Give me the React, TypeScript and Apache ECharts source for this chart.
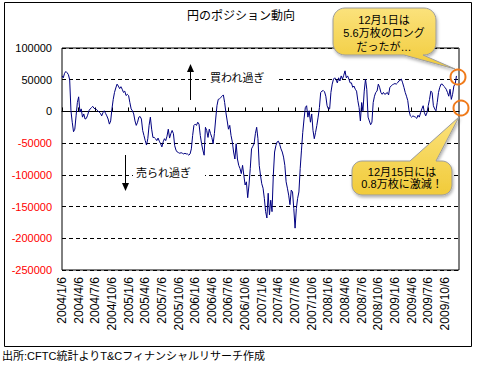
import { useEffect, useRef } from "react";
import * as echarts from "echarts";

// Weekly CFTC net yen position (contracts), 2004/1/6 .. 2009/12/1
const netPositions: number[] = [
  // 2004/1 - 2005/5
  56000, 53000, 60000, 63000, 61000, 58000, 50000, 1000, -17000, -32000, -28000, -7000, 14000, 23000, -1000, 4000,
  -9000, -4000, -12000, -11000, -6000, 1000, 4000, 6000, 8000, 5000, 4000, 3000, 1000, -1000, -3000, -7000,
  -2000, 1000, -3000, -7000, -12000, -20000, -15000, 4000, 19000, 30000, 37000, 43000, 40000, 36000, 39000, 35000,
  30000, 32000, 25000, 27000, 25000, 14000, 4000, 1000, -4000, -15000, -22000, -17000, -9000, -8000, -12000, -30000,
  -38000, -46000, -53000, -43000, -22000, -9000, -28000, -41000,
  // 2005/5 - 2006/11
  -41000, -43000, -46000, -42000, -47000, -51000, -56000, -48000, -43000, -46000, -39000, -28000, -42000, -35000, -30000, -35000,
  -54000, -61000, -64000, -65000, -66000, -65000, -66000, -67000, -66000, -67000, -67000, -69000, -67000, -59000, -38000, -22000,
  -20000, -22000, -17000, -20000, -38000, -51000, -61000, -69000, -25000, -30000, -41000, -28000, -35000, -41000, -51000, -35000,
  -12000, 9000, 19000, 20000, 22000, 24000, 26000, 14000, -2000, -15000, -28000, -22000, -38000, -48000, -64000, -75000,
  -51000, -75000, -85000, -90000, -98000, -85000, -101000, -116000, -111000, -136000, -116000, -90000, -59000, -55000,
  // 2006/11 - 2008/6
  -51000, -35000, -25000, -43000, -85000, -101000, -114000, -121000, -137000, -158000, -168000, -129000, -163000, -140000, -158000, -101000,
  -64000, -54000, -48000, -47000, -52000, -59000, -64000, -72000, -85000, -111000, -121000, -132000, -147000, -124000, -127000, -153000,
  -184000, -153000, -137000, -127000, -90000, -61000, -33000, -12000, 6000, 9000, -9000, 1000, -17000, -4000, -30000, -43000,
  -33000, -22000, -9000, 6000, 30000, 32000, 33000, 31000, 24000, 9000, 4000, 4000, 30000, 43000, 51000, 53000,
  50000, 45000, 53000, 48000, 56000, 51000, 57000, 64000, 53000, 56000, 51000, 45000, 45000, 38000, 40000, 35000,
  32000, 17000, 6000,
  // 2008/6 - 2009/12
  -15000, 14000, 1000, 32000, 51000, 35000, -9000, -15000, -21000, -17000, 14000, 24000, 30000, 32000, 43000, 38000,
  30000, 27000, 30000, 27000, 28000, 30000, 26000, 38000, 40000, 42000, 43000, 44000, 43000, 45000, 48000, 49000,
  51000, 45000, 38000, 30000, 24000, 17000, 1000, -7000, -9000, -7000, -8000, -9000, -11000, -6000, -9000, -2000,
  4000, 9000, -2000, -7000, -2000, 9000, 19000, 32000, 30000, 9000, 4000, 1000, 14000, 30000, 38000, 43000,
  43000, 40000, 38000, 35000, 30000, 24000, 35000, 19000, 27000, 40000, 43000, 56000,
];

const tickLabels: string[] = [
  "2004/1/6", "2004/4/6", "2004/7/6", "2004/10/6",
  "2005/1/6", "2005/4/6", "2005/7/6", "2005/10/6",
  "2006/1/6", "2006/4/6", "2006/7/6", "2006/10/6",
  "2007/1/6", "2007/4/6", "2007/7/6", "2007/10/6",
  "2008/1/6", "2008/4/6", "2008/7/6", "2008/10/6",
  "2009/1/6", "2009/4/6", "2009/7/6", "2009/10/6",
];

const weeksPerTick = 13;
const weekCount = 311; // 2004/1/6 .. 2009/12/15
const categories: string[] = Array.from({ length: weekCount }, (_, i) => {
  const d = new Date(2004, 0, 6 + 7 * i);
  return `${d.getFullYear()}/${d.getMonth() + 1}/${d.getDate()}`;
});

const yTicks = { min: -250000, max: 100000, interval: 50000 };

const titleText = "円のポジション動向";
const sourceText = "出所:CFTC統計よりT&Cフィナンシャルリサーチ作成";
const overboughtText = "買われ過ぎ";
const oversoldText = "売られ過ぎ";
const callout1Text = "12月1日は\n5.6万枚のロング\nだったが…";
const callout2Text = "12月15日には\n0.8万枚に激減！";

const FONT = "'Liberation Sans', 'Noto Sans CJK JP', sans-serif";

function bubblePoints(
  x: number, y: number, w: number, h: number, r: number,
  tail: { edge: "top" | "bottom"; a: number; b: number; tx: number; ty: number }
): number[][] {
  const pts: number[][] = [];
  const arc = (cx: number, cy: number, a0: number, a1: number) => {
    const steps = 8;
    for (let i = 0; i <= steps; i++) {
      const t = ((a0 + ((a1 - a0) * i) / steps) * Math.PI) / 180;
      pts.push([cx + r * Math.cos(t), cy + r * Math.sin(t)]);
    }
  };
  arc(x + r, y + r, 180, 270);
  if (tail.edge === "top") {
    pts.push([tail.a, y], [tail.tx, tail.ty], [tail.b, y]);
  }
  arc(x + w - r, y + r, 270, 360);
  arc(x + w - r, y + h - r, 0, 90);
  if (tail.edge === "bottom") {
    pts.push([tail.b, y + h], [tail.tx, tail.ty], [tail.a, y + h]);
  }
  arc(x + r, y + h - r, 90, 180);
  return pts;
}

const bubbleStyle = {
  fill: {
    type: "linear", x: 0, y: 0, x2: 0, y2: 1,
    colorStops: [
      { offset: 0, color: "#FBE27C" },
      { offset: 1, color: "#F1CB3A" },
    ],
  },
  stroke: "#9C9C9C",
  lineWidth: 1,
  shadowBlur: 3,
  shadowOffsetX: 1,
  shadowOffsetY: 2,
  shadowColor: "rgba(0,0,0,0.3)",
};

export default function App() {
  const ref = useRef<HTMLDivElement>(null);

  useEffect(() => {
    document.body.style.margin = "0";
    if (!ref.current) return;
    const chart = echarts.init(ref.current, undefined, { renderer: "svg" });

    const option: any = {
      animation: false,
      backgroundColor: "#fff",
      grid: {
        left: 62, top: 48, right: 19, bottom: 98,
        show: true, borderColor: "#000", borderWidth: 1, backgroundColor: "#fff",
      },
      xAxis: [
        {
          type: "category",
          data: categories,
          boundaryGap: false,
          position: "bottom",
          axisLine: { show: false, onZero: false },
          axisTick: { show: false },
          splitLine: { show: false },
          axisLabel: {
            interval: weeksPerTick - 1,
            rotate: 90,
            margin: 7,
            color: "#000",
            fontSize: 12,
            fontFamily: FONT,
            formatter: (_v: string, idx: number) =>
              idx % weeksPerTick === 0 ? tickLabels[idx / weeksPerTick] ?? "" : "",
          },
        },
        {
          type: "category",
          data: categories,
          boundaryGap: false,
          position: "bottom",
          axisLine: { show: true, onZero: true, lineStyle: { color: "#000", width: 1 } },
          axisTick: { show: true, inside: true, length: 4, interval: weeksPerTick - 1, lineStyle: { color: "#000" } },
          axisLabel: { show: false },
          splitLine: { show: false },
        },
      ],
      yAxis: {
        type: "value",
        min: yTicks.min,
        max: yTicks.max,
        interval: yTicks.interval,
        axisLine: { show: false },
        axisTick: { show: false },
        axisLabel: {
          margin: 10,
          fontSize: 11,
          fontFamily: FONT,
          formatter: (v: number) => String(v),
          color: (v: any) => (Number(v) < 0 ? "#FF0000" : "#000000"),
        },
        splitLine: {
          show: true,
          lineStyle: { color: "#000", width: 1, type: [4, 3] },
        },
      },
      series: [
        {
          type: "line",
          xAxisIndex: 0,
          data: netPositions,
          showSymbol: false,
          symbol: "none",
          lineStyle: { color: "#000080", width: 1 },
          z: 3,
        },
      ],
      graphic: [
        {
          type: "rect", z: 1,
          shape: { x: 4.5, y: 2.5, width: 467, height: 344 },
          style: { fill: "none", stroke: "#000", lineWidth: 1 },
        },
        {
          type: "text", z: 10, x: 241, y: 16,
          style: { text: titleText, fill: "#000", font: `12px ${FONT}`, align: "center", verticalAlign: "middle" },
        },
        {
          type: "text", z: 10, x: 2, y: 356,
          style: { text: sourceText, fill: "#000", font: `11px ${FONT}`, align: "left", verticalAlign: "middle" },
        },
        // overbought label + arrow
        { type: "rect", z: 9, shape: { x: 208, y: 72, width: 69, height: 12 }, style: { fill: "#fff" } },
        {
          type: "text", z: 10, x: 210, y: 78,
          style: { text: overboughtText, fill: "#000", font: `11px ${FONT}`, align: "left", verticalAlign: "middle" },
        },
        { type: "line", z: 10, shape: { x1: 190.5, y1: 100, x2: 190.5, y2: 70 }, style: { stroke: "#000", lineWidth: 1 } },
        { type: "polygon", z: 10, shape: { points: [[190.5, 64], [187, 72], [194, 72]] }, style: { fill: "#000" } },
        // oversold label + arrow
        { type: "rect", z: 9, shape: { x: 133, y: 167, width: 72, height: 12 }, style: { fill: "#fff" } },
        {
          type: "text", z: 10, x: 136, y: 173,
          style: { text: oversoldText, fill: "#000", font: `11px ${FONT}`, align: "left", verticalAlign: "middle" },
        },
        { type: "line", z: 10, shape: { x1: 125.5, y1: 155, x2: 125.5, y2: 185 }, style: { stroke: "#000", lineWidth: 1 } },
        { type: "polygon", z: 10, shape: { points: [[125.5, 191], [122, 183], [129, 183]] }, style: { fill: "#000" } },
        // callout 1
        {
          type: "polygon", z: 20,
          shape: { points: bubblePoints(333, 8, 103, 47, 12, { edge: "bottom", a: 404, b: 423, tx: 455, ty: 69 }) },
          style: bubbleStyle,
        },
        {
          type: "text", z: 21, x: 384, y: 33,
          style: { text: callout1Text, fill: "#000", font: `11px ${FONT}`, align: "center", verticalAlign: "middle", lineHeight: 13.5 },
        },
        // callout 2
        {
          type: "polygon", z: 20,
          shape: { points: bubblePoints(352, 161, 100, 34, 10, { edge: "top", a: 410, b: 436, tx: 459, ty: 117 }) },
          style: bubbleStyle,
        },
        {
          type: "text", z: 21, x: 402, y: 178,
          style: { text: callout2Text, fill: "#000", font: `11px ${FONT}`, align: "center", verticalAlign: "middle", lineHeight: 12 },
        },
        // circles
        {
          type: "circle", z: 22, shape: { cx: 458, cy: 77, r: 7.5 },
          style: { fill: "none", stroke: "#F07A1A", lineWidth: 2 },
        },
        {
          type: "circle", z: 22, shape: { cx: 461, cy: 108, r: 7.5 },
          style: { fill: "none", stroke: "#F07A1A", lineWidth: 2 },
        },
      ],
    };

    chart.setOption(option);
    return () => chart.dispose();
  }, []);

  return <div ref={ref} style={{ width: 478, height: 368 }} />;
}
